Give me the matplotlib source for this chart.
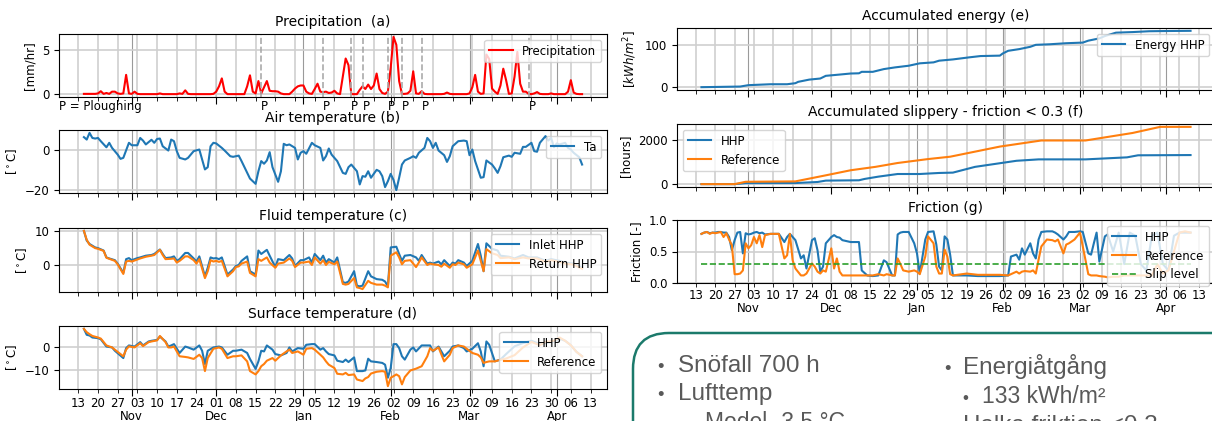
import matplotlib
matplotlib.use("Agg")
import matplotlib.pyplot as plt
import matplotlib.dates as mdates
from matplotlib.patches import FancyBboxPatch
from matplotlib.transforms import IdentityTransform
import pandas as pd

W, H = 1212, 421
START = pd.Timestamp("2018-10-13")   # day 0 of the season

# precipitation [mm/hr], daily from day 2 (2018-10-15)
precip = [
    0.05, 0.05, 0.05, 0.05, 0.05, 0.1, 0.35, 0.05, 0.15, 0.05,
    0.3, 0.3, 0.1, 0.05, 0.1, 2.2, 0.1, 0.05, 0.3, 0.05,
    0.02, 0.02, 0.02, 0.02, 0.02, 0.02, 0.02, 0.1, 0.02, 0.02,
    0.02, 0.02, 0.02, 0.02, 0.1, 0.05, 0.45, 0.05, 0.02, 0.02,
    0.02, 0.02, 0.02, 0.02, 0.02, 0.02, 0.05, 0.3, 0.9, 1.8,
    0.3, 0.02, 0.02, 0.02, 0.02, 0.02, 0.02, 0.02, 0.9, 2.15,
    0.3, 0.1, 1.5, 0.1, 0.8, 1.5, 0.4, 0.35, 0.35, 0.3,
    0.1, 0.02, 0.02, 0.02, 0.3, 0.65, 0.9, 1.0, 1.0, 0.3,
    0.1, 0.05, 0.6, 1.2, 0.3, 0.25, 0.3, 0.15, 0.2, 0.4,
    0.1, 0.02, 2.0, 4.05, 3.3, 0.02, 0.02, 0.02, 0.5, 0.9,
    0.6, 1.1, 0.6, 1.0, 2.35, 0.6, 0.15, 0.05, 0.3, 3.0,
    6.5, 5.6, 1.5, 0.05, 0.05, 0.1, 0.4, 2.6, 0.1, 0.05,
    0.35, 0.05, 0.02, 0.02, 0.02, 0.02, 0.02, 0.02, 0.05, 0.2,
    0.05, 0.02, 0.02, 0.02, 0.02, 0.02, 0.02, 0.1, 0.8, 2.2,
    0.3, 0.05, 0.1, 4.5, 4.0, 0.65, 0.3, 0.05, 1.0, 2.9,
    1.6, 0.05, 0.1, 2.0, 4.8, 1.2, 0.3, 0.3, 0.05, 0.02,
    0.1, 0.25, 0.05, 0.02, 0.02, 0.02, 0.1, 0.02, 0.02, 0.02,
    0.02, 0.02, 0.3, 1.6, 0.2, 0.05, 0.02, 0.02,
]
plough_dates = ["2018-12-17", "2019-01-08", "2019-01-18", "2019-01-22",
                "2019-01-31", "2019-02-05", "2019-02-12", "2019-03-22"]

# air temperature [C]
ta_day = [2, 3, 4, 5, 6, 7, 8, 10, 11, 12, 14, 15, 16, 18, 19, 21, 22, 23, 24, 26,
          27, 28, 29, 30, 32, 33, 34, 35, 36, 38, 39, 41, 43, 44, 45, 46, 47, 48, 49, 51,
          52, 54, 55, 57, 58, 60, 61, 63, 64, 65, 66, 67, 68, 69, 71, 72, 73, 74, 75, 77,
          78, 79, 80, 81, 83, 84, 86, 87, 88, 89, 90, 92, 94, 95, 96, 97, 99, 100, 101, 102,
          103, 104, 106, 107, 108, 109, 110, 111, 112, 113, 114, 115, 116, 118, 119, 120, 121, 123, 124, 125,
          126, 127, 128, 130, 131, 132, 133, 135, 137, 138, 139, 140, 141, 143, 144, 145, 147, 148, 149, 150,
          151, 153, 154, 155, 157, 158, 159, 161, 162, 163, 164, 166, 167, 168, 169, 170, 171, 173, 174, 175,
          176, 178, 179]
ta = [6.1, 4.9, 8.2, 5.7, 5.4, 5.7, 4.1, 1.1, 3.3, 0.8, -2.5, -4.6, -4.1, 3.3, 2.1, 2.1, 5.7, 4.4, 2.5, 4.8,
      3.3, 5.2, 5.4, 1.6, -0.5, 4.9, 4.1, -0.8, -4.1, -4.9, -4.1, -0.8, 0.0, -4.9, -9.8, -8.7, 1.6, 3.3, 3.0, 0.8,
      -0.5, -3.3, -3.6, -3.0, -5.7, -11.5, -14.3, -16.9, -10.7, -5.7, -7.0, -5.4, -1.3, -8.7, -15.9, -10.7, 2.8, 2.1, 2.5, 0.8,
      -4.9, -1.6, -0.8, -2.1, 3.3, 2.1, 0.8, -5.4, -3.3, 0.5, -2.5, -5.7, -11.5, -12.0, -8.7, -7.4, -10.7, -17.2, -13.1, -13.4,
      -10.7, -13.9, -10.0, -10.7, -13.1, -18.5, -15.6, -12.0, -15.0, -20.0, -13.9, -7.4, -5.4, -4.1, -3.3, -4.1, -1.6, 0.8, 5.7, 4.1,
      0.8, 3.3, -0.5, -2.8, -6.1, -3.3, 1.6, 4.1, 4.4, 4.1, -2.8, 0.0, -5.7, -13.9, -13.6, -5.4, -7.4, -9.3, -11.5, -8.2,
      -3.8, -3.0, -3.6, -1.6, -2.1, 1.3, 1.3, 3.3, -0.8, -1.1, 3.3, 6.6, 4.4, 5.7, 1.1, 3.0, 2.5, 3.3, 0.8, 0.0,
      -1.6, -3.8, -7.4]

# fluid temperature [C]
fluid_day = [2, 3, 4, 6, 7, 9, 10, 11, 13, 14, 16, 17, 18, 19, 21, 22, 24, 26, 27, 29,
             30, 31, 33, 34, 35, 36, 38, 39, 41, 42, 43, 45, 46, 47, 48, 49, 50, 51, 53, 55,
             56, 57, 58, 60, 61, 63, 64, 65, 67, 68, 70, 71, 73, 75, 76, 77, 79, 80, 82, 83,
             84, 86, 87, 88, 89, 91, 92, 94, 95, 96, 98, 99, 100, 101, 103, 104, 106, 108, 109, 110,
             111, 113, 114, 115, 116, 118, 120, 121, 122, 124, 125, 126, 128, 129, 130, 132, 133, 134, 135, 137,
             138, 140, 142, 143, 144, 145, 147, 149, 150, 153, 155, 158, 160, 163, 166, 168, 171, 173, 176, 179]
inlet = [10.0, 7.2, 6.2, 5.2, 5.0, 4.3, 2.3, 2.0, 1.5, 0.5, -2.2, 1.8, 2.1, 1.5, 2.1, 2.3, 2.8, 3.0, 3.3, 4.6,
         3.3, 2.1, 2.3, 2.6, 1.3, 1.8, 3.6, 3.6, 2.0, 1.1, 2.6, -3.2, -0.7, 2.3, 2.0, 2.1, 1.8, 2.3, -2.7, -1.2,
         -0.2, 0.1, 1.3, 2.6, -1.7, -2.7, 4.3, 3.3, 4.5, 2.8, -0.5, 1.8, 1.5, 3.0, 2.0, -0.2, 1.5, 1.5, 2.3, 0.8,
         3.3, 1.5, 2.8, 0.8, 1.8, 0.8, 2.3, -4.9, -5.1, -4.7, -1.7, -5.9, -6.1, -5.9, -1.7, -3.2, -4.0, -4.2, -4.7, -6.1,
         5.2, 5.4, 3.3, 1.3, 2.8, 3.0, 2.3, 1.3, 3.0, 0.5, 0.8, 0.5, 1.1, 0.3, 1.5, -0.2, 0.8, 0.5, 1.5, 0.8,
         -0.2, 1.3, 6.2, 2.8, -1.7, 6.4, 4.8, 4.3, 2.8, 2.5, 2.0, 3.0, 2.3, 2.3, 1.3, 1.8, 1.3, 0.8, 0.5, -0.7]
ret = [10.0, 7.4, 6.0, 5.0, 4.8, 4.2, 2.2, 1.9, 1.3, 0.3, -2.5, 1.1, 1.3, 1.1, 1.7, 2.0, 2.5, 2.8, 3.0, 4.5,
       3.0, 1.8, 1.9, 2.0, 0.8, 1.3, 2.6, 2.6, 1.5, 0.5, 1.8, -3.7, -1.7, 1.5, 1.1, 1.3, 1.0, 1.3, -3.2, -1.7,
       -0.5, -0.3, 0.5, 1.1, -2.2, -3.2, 1.8, 1.3, 2.3, 0.8, -0.7, 0.5, 0.8, 2.0, 1.3, -0.5, 0.8, 0.8, 1.1, 0.1,
       2.3, 0.5, 1.5, 0.1, 1.0, 0.3, 1.1, -5.4, -5.6, -5.4, -3.7, -6.4, -6.6, -6.9, -4.5, -5.1, -5.6, -5.6, -5.9, -6.4,
       2.8, 3.8, 2.3, 0.3, 1.3, 1.5, -0.5, 0.8, 2.3, 0.1, 0.5, 0.3, 0.1, -0.4, 0.5, -0.7, 0.3, 0.1, 0.8, 0.3,
       -0.7, 0.3, 4.3, 1.3, -1.7, 4.7, 3.5, 3.0, 2.1, 2.3, 1.8, 2.3, 2.0, 2.0, 1.0, 1.5, 1.0, 0.5, 0.2, -1.0]

# surface temperature [C]
surf_day = [2, 3, 4, 5, 7, 8, 10, 12, 13, 15, 16, 17, 18, 20, 22, 23, 25, 26, 28, 29,
            31, 32, 33, 34, 36, 38, 39, 41, 43, 44, 45, 46, 48, 50, 51, 53, 55, 56, 58, 60,
            61, 63, 64, 65, 66, 67, 69, 70, 72, 74, 75, 76, 78, 80, 81, 83, 84, 86, 87, 88,
            89, 91, 92, 94, 95, 96, 98, 99, 101, 102, 103, 104, 106, 108, 109, 110, 111, 112, 113, 114,
            115, 116, 118, 119, 120, 122, 124, 125, 126, 128, 130, 132, 133, 135, 137, 138, 140, 142, 143, 144,
            145, 146, 148, 150, 152, 155, 158, 161, 164, 166, 169, 171, 173, 175, 177, 179]
surf_hhp = [8.4, 5.7, 5.4, 4.5, 4.2, 3.7, 0.4, 0.0, -1.5, -3.7, -4.8, -0.3, 0.9, 0.4, 2.4, 0.9, 2.7, 3.0, 3.4, 4.9,
            2.7, 0.4, 0.9, 1.5, -2.5, 0.4, 0.0, -1.0, 0.9, -1.5, -7.5, -1.5, 0.0, 0.4, 0.0, -3.3, -1.5, -1.5, -1.0, -2.5,
            -5.2, -9.7, -6.3, -1.5, -1.8, 0.9, -1.0, -3.0, -3.6, -2.5, 0.0, -1.8, -0.3, -0.6, 1.2, 1.5, 1.5, -1.0, -0.3, -1.8,
            -3.0, -3.6, -6.0, -6.6, -5.5, -6.6, -4.5, -10.7, -10.7, -10.4, -5.1, -6.3, -6.6, -7.0, -7.8, -13.7, -9.3, 1.5, 1.5, -0.3,
            -4.0, -5.5, -1.0, 0.0, -1.8, 0.9, 0.9, 0.9, -1.8, 0.4, -4.0, -1.5, 0.4, 0.9, -0.3, -1.8, -0.6, 1.9, -1.8, -8.5,
            2.7, 1.2, -6.3, -5.5, -3.0, 0.5, 2.0, 3.0, 1.5, 2.0, 2.7, 4.0, 3.0, 1.0, -2.0, -4.0]
surf_ref = [8.4, 6.9, 6.0, 5.2, 4.5, 4.0, 0.9, 0.0, -1.0, -3.0, -4.0, -1.0, 0.5, 0.0, 1.9, 0.6, 2.4, 2.7, 3.2, 5.2,
            2.4, 0.0, 0.0, 0.4, -4.0, -4.3, -4.5, -5.2, -3.3, -4.8, -10.7, -4.8, -0.6, 0.0, -0.6, -4.8, -4.0, -4.0, -3.6, -6.3,
            -10.7, -12.2, -10.7, -8.5, -7.5, -6.0, -4.8, -6.0, -3.6, -1.8, -1.0, -2.5, -1.8, -3.3, -0.6, -0.3, -1.0, -3.3, -4.5, -6.3,
            -7.8, -9.3, -11.9, -12.2, -11.5, -12.5, -12.2, -14.5, -15.2, -14.0, -13.4, -11.8, -11.0, -10.7, -11.0, -17.5, -13.7, -13.0, -12.2, -13.0,
            -16.7, -13.4, -10.4, -10.0, -9.6, -8.5, -4.0, -0.3, -1.5, 0.0, -6.3, -3.3, -0.3, 0.9, 0.4, -0.6, -2.5, -3.3, -4.5, -7.0,
            -6.6, -6.3, -6.3, -5.6, -5.0, -3.5, 0.0, 2.5, 1.0, 2.5, 3.0, 4.5, 3.0, 1.0, -2.0, -4.0]

# accumulated energy [kWh/m2]
energy_day = [2, 16, 19, 27, 33, 36, 37, 41, 45, 47, 52, 56, 59, 60, 64, 68, 72, 77, 81, 86,
              88, 93, 99, 103, 110, 111, 113, 117, 121, 123, 128, 134, 140, 142, 146, 148, 152, 158, 164, 170, 179]
energy = [0, 1.5, 4.8, 7, 7, 9.5, 12.7, 18, 20.6, 27, 30, 32.5, 33, 36.5, 36.5, 43, 47, 51, 56.7, 59,
          63, 66, 71, 74, 75, 80, 86.5, 90.5, 96, 100.7, 102, 104.5, 106, 110.6, 116, 121.6, 129.6, 131, 133, 133.5, 134]

# accumulated slippery hours, friction < 0.3
slip_hhp_day = [2, 14, 18, 36, 44, 47, 59, 61, 66, 73, 81, 88, 93, 101, 116, 124, 141, 156, 160, 179]
slip_hhp = [0, 0, 46, 50, 97, 160, 175, 235, 340, 460, 460, 507, 523, 784, 1060, 1124, 1124, 1216, 1309, 1320]
slip_ref_day = [2, 14, 18, 36, 47, 56, 65, 73, 84, 92, 110, 125, 141, 158, 168, 179]
slip_ref = [0, 0, 107, 125, 400, 630, 785, 960, 1138, 1245, 1705, 1982, 1982, 2322, 2600, 2600]

# friction [-]
fric_day = [2, 3, 4, 5, 6, 7, 8, 9, 10, 11, 12, 13, 14, 15, 16, 17, 18, 19, 20, 21,
            22, 23, 24, 25, 27, 30, 32, 33, 34, 35, 36, 38, 39, 40, 42, 43, 44, 45, 46, 47,
            49, 50, 51, 52, 53, 56, 59, 60, 62, 64, 66, 68, 69, 71, 72, 73, 74, 75, 77, 79,
            80, 81, 83, 84, 86, 87, 88, 89, 90, 91, 92, 93, 98, 102, 110, 113, 114, 116, 117, 118,
            119, 121, 122, 123, 124, 125, 127, 129, 130, 131, 133, 134, 135, 137, 139, 140, 142, 143, 144, 145,
            146, 148, 149, 151, 153, 155, 157, 159, 161, 163, 165, 167, 169, 171, 173, 175, 177, 179]
fric_hhp = [0.78, 0.80, 0.81, 0.79, 0.80, 0.80, 0.81, 0.81, 0.80, 0.80, 0.73, 0.52, 0.68, 0.80, 0.81, 0.47, 0.79, 0.77, 0.78, 0.80,
            0.81, 0.79, 0.80, 0.77, 0.78, 0.78, 0.65, 0.73, 0.78, 0.73, 0.68, 0.39, 0.44, 0.23, 0.68, 0.71, 0.52, 0.18, 0.26, 0.63,
            0.73, 0.76, 0.73, 0.72, 0.68, 0.65, 0.65, 0.20, 0.12, 0.11, 0.12, 0.36, 0.33, 0.12, 0.12, 0.77, 0.80, 0.81, 0.81, 0.63,
            0.47, 0.15, 0.69, 0.81, 0.82, 0.61, 0.26, 0.20, 0.74, 0.69, 0.45, 0.12, 0.12, 0.11, 0.11, 0.12, 0.42, 0.45, 0.37, 0.55,
            0.45, 0.63, 0.47, 0.39, 0.69, 0.81, 0.82, 0.82, 0.80, 0.77, 0.69, 0.74, 0.81, 0.81, 0.82, 0.81, 0.47, 0.45, 0.63, 0.80,
            0.34, 0.74, 0.77, 0.50, 0.80, 0.30, 0.80, 0.75, 0.30, 0.20, 0.75, 0.80, 0.30, 0.20, 0.75, 0.80, 0.80, 0.80]
fric_ref = [0.78, 0.80, 0.81, 0.78, 0.80, 0.79, 0.80, 0.81, 0.73, 0.79, 0.69, 0.60, 0.14, 0.14, 0.15, 0.20, 0.63, 0.55, 0.60, 0.73,
            0.63, 0.76, 0.57, 0.76, 0.78, 0.78, 0.39, 0.44, 0.78, 0.36, 0.23, 0.12, 0.12, 0.15, 0.31, 0.26, 0.18, 0.15, 0.20, 0.18,
            0.55, 0.23, 0.39, 0.18, 0.12, 0.12, 0.12, 0.12, 0.12, 0.12, 0.14, 0.12, 0.14, 0.12, 0.12, 0.39, 0.30, 0.20, 0.18, 0.20,
            0.18, 0.14, 0.42, 0.74, 0.63, 0.26, 0.15, 0.15, 0.53, 0.42, 0.14, 0.12, 0.15, 0.13, 0.13, 0.12, 0.14, 0.18, 0.15, 0.18,
            0.19, 0.18, 0.20, 0.15, 0.37, 0.58, 0.69, 0.68, 0.66, 0.69, 0.47, 0.61, 0.63, 0.69, 0.80, 0.58, 0.14, 0.12, 0.12, 0.12,
            0.11, 0.10, 0.09, 0.10, 0.10, 0.12, 0.12, 0.12, 0.12, 0.12, 0.12, 0.30, 0.15, 0.20, 0.50, 0.80, 0.82, 0.80]
slip_level = 0.3

BLUE, ORANGE = "#1f77b4", "#ff7f0e"


def days(d):
    return START + pd.to_timedelta(d, unit="D")


def box(left, top, right, bottom):
    return [left / W, 1 - bottom / H, (right - left) / W, (bottom - top) / H]


def date_axis(ax, labels, day_pad=3.5, month_pad=10.0):
    ax.xaxis.set_major_locator(mdates.MonthLocator())
    ax.xaxis.set_minor_locator(mdates.WeekdayLocator(byweekday=mdates.SA))
    ax.xaxis.set_major_formatter(mdates.DateFormatter("%b"))
    ax.xaxis.set_minor_formatter(mdates.DateFormatter("%d"))
    ax.xaxis.remove_overlapping_locs = False
    ax.grid(True, which="major", axis="x", color="#9a9a9a", lw=0.8)
    ax.grid(True, which="minor", axis="x", color="#cfcfcf", lw=1.2)
    ax.grid(True, which="major", axis="y", color="#cfcfcf", lw=1.2)
    ax.set_axisbelow(True)
    ax.tick_params(axis="x", which="major", length=5, pad=month_pad)
    ax.tick_params(axis="x", which="minor", length=3, pad=day_pad)
    ax.tick_params(axis="both", which="both", labelsize=8.5)
    if not labels:
        ax.tick_params(axis="x", which="both", labelbottom=False)


fig = plt.figure(figsize=(W / 100, H / 100), dpi=100)
TS = 10
LS = 8.5

# (a) precipitation
ax = fig.add_axes(box(59, 34, 607, 97))
precip_dates = START + pd.to_timedelta(range(2, 2 + len(precip)), unit="D")
ax.plot(precip_dates, precip, color="red", lw=1.5, label="Precipitation")
for d in plough_dates:
    ax.axvline(pd.Timestamp(d), color="#aaaaaa", ls="--", lw=1.2)
    ax.text(pd.Timestamp(d), -0.15, "P", transform=ax.get_xaxis_transform(),
            ha="left", va="center", fontsize=8.5)
ax.text(0.0, -0.15, "P = Ploughing", transform=ax.transAxes, ha="left", va="center", fontsize=8.5)
ax.set_yticks([0, 5])
ax.set_ylabel("[mm/hr]", fontsize=8.5)
ax.set_title("Precipitation  (a)", fontsize=TS)
ax.legend(loc="upper right", fontsize=LS)
date_axis(ax, False)

# (b) air temperature
ax = fig.add_axes(box(59, 130, 607, 193))
ax.plot(days(ta_day), ta, color=BLUE, lw=1.5, label="Ta")
ax.set_yticks([-20, 0])
ax.set_ylabel("[$^\\circ$C]", fontsize=8.5)
ax.set_title("Air temperature (b)", fontsize=TS)
ax.legend(loc="upper right", fontsize=LS)
date_axis(ax, False)

# (c) fluid temperature
ax = fig.add_axes(box(59, 228, 607, 292))
ax.plot(days(fluid_day), inlet, color=BLUE, lw=1.5, label="Inlet HHP")
ax.plot(days(fluid_day), ret, color=ORANGE, lw=1.5, label="Return HHP")
ax.set_yticks([0, 10])
ax.set_ylabel("[$^\\circ$C]", fontsize=8.5)
ax.set_title("Fluid temperature (c)", fontsize=TS)
ax.legend(loc="upper right", fontsize=LS)
date_axis(ax, False)

# (d) surface temperature
ax = fig.add_axes(box(59, 326, 607, 389))
ax.plot(days(surf_day), surf_hhp, color=BLUE, lw=1.5, label="HHP")
ax.plot(days(surf_day), surf_ref, color=ORANGE, lw=1.5, label="Reference")
ax.set_yticks([-10, 0])
ax.set_ylabel("[$^\\circ$C]", fontsize=8.5)
ax.set_title("Surface temperature (d)", fontsize=TS)
ax.legend(loc="upper right", fontsize=LS)
date_axis(ax, True, day_pad=3.0, month_pad=10.0)

# (e) accumulated energy
ax = fig.add_axes(box(677, 28, 1215, 90))
ax.plot(days(energy_day), energy, color=BLUE, lw=1.5, label="Energy HHP")
ax.set_yticks([0, 100])
ax.set_ylabel("[$kWh/m^2$]", fontsize=8.5)
ax.set_title("Accumulated energy (e)", fontsize=TS)
ax.legend(loc="upper right", fontsize=LS)
date_axis(ax, False)

# (f) accumulated slippery hours
ax = fig.add_axes(box(677, 124, 1215, 187))
ax.plot(days(slip_hhp_day), slip_hhp, color=BLUE, lw=1.5, label="HHP")
ax.plot(days(slip_ref_day), slip_ref, color=ORANGE, lw=1.5, label="Reference")
ax.set_yticks([0, 2000])
ax.set_ylabel("[hours]", fontsize=8.5)
ax.set_title("Accumulated slippery - friction < 0.3 (f)", fontsize=TS)
ax.legend(loc="upper left", fontsize=LS)
date_axis(ax, False)

# (g) friction
ax = fig.add_axes(box(677, 220, 1215, 283))
ax.plot(days(fric_day), fric_hhp, color=BLUE, lw=1.5, label="HHP")
ax.plot(days(fric_day), fric_ref, color=ORANGE, lw=1.5, label="Reference")
ax.plot(days([fric_day[0], fric_day[-1]]), [slip_level, slip_level], color="#2ca02c",
        ls="--", lw=1.2, label="Slip level")
ax.set_ylim(0, 1)
ax.set_yticks([0.0, 0.5, 1.0])
ax.set_ylabel("Friction [-]", fontsize=8.5)
ax.set_title("Friction (g)", fontsize=TS)
ax.legend(loc="upper right", fontsize=LS)
date_axis(ax, True, day_pad=1.5, month_pad=8.5)

# slide text box in the lower right corner
frame = FancyBboxPatch((633, -60), 700, (H - 333) + 60, boxstyle="round,pad=0,rounding_size=36",
                       transform=IdentityTransform(), ec="#1b7a6b", fc="white", lw=1.8)
fig.add_artist(frame)

GREY = "#595959"
SLIDE = "Liberation Sans"


def slide_line(x_bullet, x_text, y_base, text, size):
    fig.text(x_bullet / W, 1 - y_base / H, "\u2022", fontsize=size * 0.75, color=GREY,
             family=SLIDE, ha="left", va="baseline")
    fig.text(x_text / W, 1 - y_base / H, text, fontsize=size, color=GREY,
             family=SLIDE, ha="left", va="baseline")


slide_line(657, 678, 372, "Snöfall 700 h", 17.5)
slide_line(657, 678, 400, "Lufttemp", 17.5)
slide_line(684, 705, 429, "Model -3.5 °C", 16.5)
slide_line(944, 963, 374, "Energiåtgång", 17.5)
slide_line(962, 982, 403, "133 kWh/m²", 16.5)
slide_line(944, 963, 432, "Halka friktion <0.3", 17.5)

fig.savefig("out.png", dpi=100)
